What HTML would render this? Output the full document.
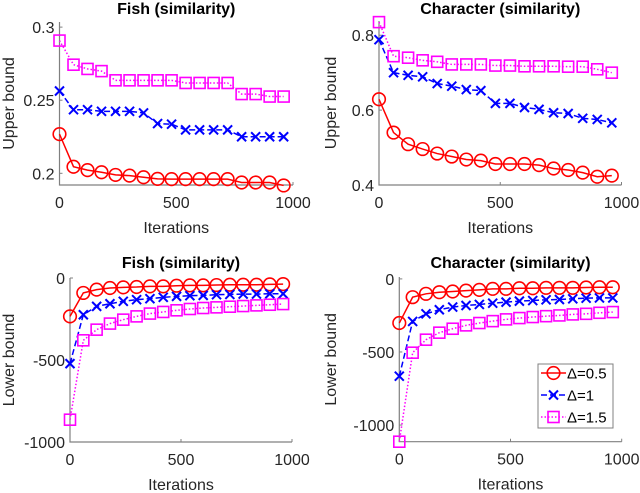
<!DOCTYPE html>
<html><head><meta charset="utf-8"><style>
body{margin:0;background:#fff}
svg{display:block;font-family:"Liberation Sans",Arial,sans-serif}
.tick{font-size:16px;fill:#262626}
.lab{font-size:16px;fill:#262626}
.ttl{font-size:16px;font-weight:bold;fill:#000}
.leg{font-size:15px;fill:#000}
</style></head><body>
<svg id="fig" width="640" height="493" viewBox="0 0 640 493" xmlns="http://www.w3.org/2000/svg"></svg>
<script>
const iterations=[0,60,120,180,240,300,360,420,480,540,600,660,720,780,840,900,960];
const fishUpperRed=[0.2268,0.2045,0.2022,0.2007,0.1989,0.1984,0.1973,0.1962,0.196,0.196,0.196,0.196,0.196,0.1937,0.1937,0.1937,0.1917];
const fishUpperBlue=[0.2563,0.2435,0.2435,0.2424,0.2424,0.2424,0.2413,0.234,0.2336,0.2297,0.2297,0.2297,0.2297,0.225,0.225,0.225,0.225];
const fishUpperMag=[0.2908,0.2743,0.2714,0.2699,0.2636,0.2636,0.2636,0.2636,0.2636,0.2618,0.2618,0.2618,0.2618,0.2542,0.2542,0.2525,0.2525];
const charUpperRed=[0.629,0.540,0.509,0.496,0.484,0.476,0.468,0.465,0.456,0.456,0.456,0.453,0.444,0.44,0.433,0.422,0.425];
const charUpperBlue=[0.788,0.700,0.693,0.689,0.671,0.664,0.655,0.652,0.618,0.618,0.607,0.602,0.593,0.591,0.578,0.575,0.566];
const charUpperMag=[0.835,0.744,0.740,0.733,0.729,0.722,0.722,0.722,0.719,0.719,0.717,0.717,0.717,0.716,0.716,0.709,0.700];
const fishLowerRed=[-234,-91,-71,-61,-57,-55,-51,-51,-47,-45,-45,-43,-41,-41,-41,-39,-37];
const fishLowerBlue=[-522,-224,-173,-157,-142,-132,-126,-118,-112,-108,-106,-102,-100,-98,-98,-96,-96];
const fishLowerMag=[-864,-380,-315,-278,-254,-234,-217,-207,-197,-189,-183,-179,-175,-171,-167,-163,-159];
const charLowerRed=[-302,-125,-102,-91,-86,-80,-75,-68,-68,-64,-64,-61,-61,-61,-59,-57,-57];
const charLowerBlue=[-666,-291,-239,-211,-193,-182,-175,-166,-159,-152,-148,-143,-141,-136,-132,-130,-130];
const charLowerMag=[-1114,-505,-416,-368,-341,-318,-302,-289,-277,-268,-261,-255,-250,-243,-239,-232,-227];
const xTicks=[0,500,1000];
const fishUpperTicks=[0.2,0.25,0.3];
const charUpperTicks=[0.4,0.6,0.8];
const lowerTicks=[-1000,-500,0];
const legendLabels=["Δ=0.5","Δ=1","Δ=1.5"];

const NS="http://www.w3.org/2000/svg";
const fig=document.getElementById('fig');
function mk(tag,attrs,parent){const e=document.createElementNS(NS,tag);for(const k in attrs)e.setAttribute(k,attrs[k]);(parent||fig).appendChild(e);return e;}
const styles=[{c:'#ff0000',dash:'',m:'o'},{c:'#0000ff',dash:'6,3',m:'x'},{c:'#ff00ff',dash:'1.5,2',m:'s'}];

function marker(g,m,x,y,c){
  let e;
  if(m==='o'){e=mk('circle',{cx:x,cy:y,r:6.3,fill:'none',stroke:c,'stroke-width':1.6},g);}
  else if(m==='s'){e=mk('rect',{x:x-5.5,y:y-5.5,width:11,height:11,fill:'none',stroke:c,'stroke-width':1.6},g);}
  else{e=mk('path',{d:`M${x-4.5},${y-4.5}L${x+4.5},${y+4.5}M${x-4.5},${y+4.5}L${x+4.5},${y-4.5}`,stroke:c,'stroke-width':2,fill:'none'},g);}
  
  
}

function panel(p){
  const g=mk('g',{});
  
  
  const sx=v=>p.x0+(v-0)/1000*(p.x1-p.x0);
  const sy=v=>p.y1-(v-p.ymin)/(p.ymax-p.ymin)*(p.y1-p.y0);
  const ax=mk('path',{d:`M${p.x0},${p.y0}L${p.x0},${p.y1}L${p.x1},${p.y1}`,stroke:'#808080','stroke-width':1.2,fill:'none'},g);
  
  
  xTicks.forEach(t=>{
    mk('line',{x1:sx(t),x2:sx(t),y1:p.y1,y2:p.y1-3,stroke:'#808080'},g);
    const tx=mk('text',{x:sx(t),y:p.y1+23,'text-anchor':'middle',class:'tick'},g);tx.textContent=t;
    
    
  });
  p.ticks.forEach(t=>{
    mk('line',{x1:p.x0,x2:p.x0+3,y1:sy(t),y2:sy(t),stroke:'#808080'},g);
    const tx=mk('text',{x:p.x0-5,y:sy(t)+6,'text-anchor':'end',class:'tick'},g);tx.textContent=t;
    
    
  });
  const xl=mk('text',{x:(p.x0+p.x1)/2,y:p.y1+48,'text-anchor':'middle',class:'lab'},g);xl.textContent='Iterations';
  
  
  const yl=mk('text',{x:0,y:0,'text-anchor':'middle',class:'lab',transform:`translate(${p.ylx},${(p.y0+p.y1)/2}) rotate(-90)`},g);yl.textContent=p.ylabel;
  
  
  const tt=mk('text',{x:(p.x0+p.x1)/2,y:p.ty,'text-anchor':'middle',class:'ttl'},g);tt.textContent=p.title;
  
  
  p.series.forEach((s,i)=>{
    const st=styles[i];
    const d=s.map((v,j)=>(j?'L':'M')+sx(iterations[j])+','+sy(v)).join('');
    const ln=mk('path',{d:d,stroke:st.c,'stroke-width':1.5,fill:'none','stroke-dasharray':st.dash},g);
    
    
    s.forEach((v,j)=>marker(g,st.m,sx(iterations[j]),sy(v),st.c));
  });
}
panel({name:'fish-upper-panel',x0:59.5,x1:293,y0:22,y1:185,ymin:0.192,ymax:0.3035,ticks:fishUpperTicks,series:[fishUpperRed,fishUpperBlue,fishUpperMag],ylabel:'Upper bound',title:'Fish (similarity)',ylx:14,ty:14});
panel({name:'character-upper-panel',x0:379,x1:621.5,y0:21,y1:185,ymin:0.4,ymax:0.838,ticks:charUpperTicks,series:[charUpperRed,charUpperBlue,charUpperMag],ylabel:'Upper bound',title:'Character (similarity)',ylx:336,ty:14});
panel({name:'fish-lower-panel',x0:70,x1:292,y0:278,y1:442,ymin:-1000,ymax:0,ticks:lowerTicks,series:[fishLowerRed,fishLowerBlue,fishLowerMag],ylabel:'Lower bound',title:'Fish (similarity)',ylx:14,ty:268});
panel({name:'character-lower-panel',x0:399.3,x1:621.7,y0:277,y1:441.7,ymin:-1114,ymax:13,ticks:lowerTicks,series:[charLowerRed,charLowerBlue,charLowerMag],ylabel:'Lower bound',title:'Character (similarity)',ylx:336,ty:268});

const lg=mk('g',{});


mk('rect',{x:538,y:364,width:75,height:64,fill:'#fff',stroke:'#808080','stroke-width':1},lg);
legendLabels.forEach((t,i)=>{
  const y=373+i*22, st=styles[i];
  const e=mk('g',{},lg);
  
  
  mk('line',{x1:541,x2:566,y1:y,y2:y,stroke:st.c,'stroke-width':1.5,'stroke-dasharray':st.dash},e);
  marker(e,st.m,553.5,y,st.c);
  const tx=mk('text',{x:567,y:y+5.5,class:'leg'},e);tx.textContent=t;
});
</script>
</body></html>
